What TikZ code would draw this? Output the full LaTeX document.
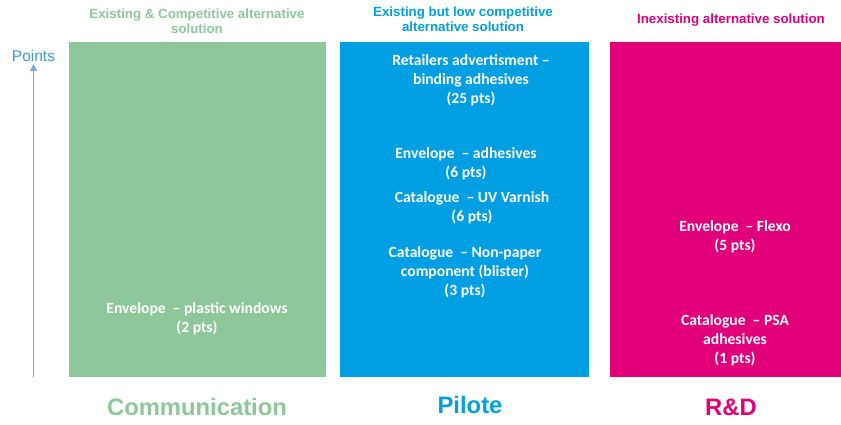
\documentclass[tikz,border=0pt]{standalone}
\usepackage{fontspec}
\setmainfont{Carlito}
\newfontfamily\arialf{Liberation Sans}
\usetikzlibrary{arrows.meta}
\definecolor{cgreen}{HTML}{8DC79A}
\definecolor{cblue}{HTML}{009FE3}
\definecolor{cpink}{HTML}{E2007A}
\definecolor{cpts}{HTML}{3A9AD9}
\definecolor{caxis}{HTML}{7FA9DA}
\tikzset{
  colbox/.style={draw=none},
  head/.style={font=\arialf\bfseries\fontsize{13.3}{15.3}\selectfont, align=center, inner sep=0pt},
  foot/.style={font=\arialf\bfseries\fontsize{23.8}{26}\selectfont, inner sep=0pt},
  item/.style={font=\bfseries\fontsize{15.6}{19}\selectfont, text=white, align=center, inner sep=0pt},
}
\begin{document}
\begin{tikzpicture}[x=1pt,y=-1pt]
\useasboundingbox (0,0) rectangle (841,425);
% columns
\fill[cgreen] (69,42) rectangle (326,377);
\fill[cblue] (340,42) rectangle (589,377);
\fill[cpink] (610,42) rectangle (841,377);
\node[colbox] (gbox) at (197.5,209.5) {};
\node[colbox] (bbox) at (464.5,209.5) {};
\node[colbox] (pbox) at (725.5,209.5) {};
% headers
\node[head, text=cgreen] (h1) at (197,21.5) {Existing \& Competitive alternative\\solution};
\node[head, text=cblue] (h2) at (463,19) {Existing but low competitive\\alternative solution};
\node[head, text=cpink] (h3) at (731,20) {Inexisting alternative solution};
% footers
\node[foot, text=cgreen] (f1) at (197,407) {Communication};
\node[foot, text=cblue] (f2) at (470,405) {Pilote};
\node[foot, text=cpink] (f3) at (731,407) {R\&D};
% axis
\node[font=\arialf\fontsize{15.5}{17}\selectfont, text=cpts, inner sep=0pt] (pts) at (33.5,56) {Points};
\coordinate (ax0) at (33.5,377);
\coordinate (ax1) at (33.5,64);
\draw[caxis, line width=1.2pt, -{Triangle[length=7pt,width=7pt]}] (ax0) -- (ax1);
% items
\node[item] (g1) at (197,319) {Envelope\ \ – plastic windows\\(2 pts)};
\node[item] (b1) at (471,80) {Retailers advertisment –\\binding adhesives\\(25 pts)};
\node[item] (b2) at (466,164) {Envelope\ \ – adhesives\\(6 pts)};
\node[item] (b3) at (472,207.5) {Catalogue\ \ – UV Varnish\\(6 pts)};
\node[item] (b4) at (465,272) {Catalogue\ \ – Non-paper\\component (blister)\\(3 pts)};
\node[item] (p1) at (735,236.5) {Envelope\ \ – Flexo\\(5 pts)};
\node[item] (p2) at (735,340) {Catalogue\ \ – PSA\\adhesives\\(1 pts)};
\end{tikzpicture}
\end{document}
